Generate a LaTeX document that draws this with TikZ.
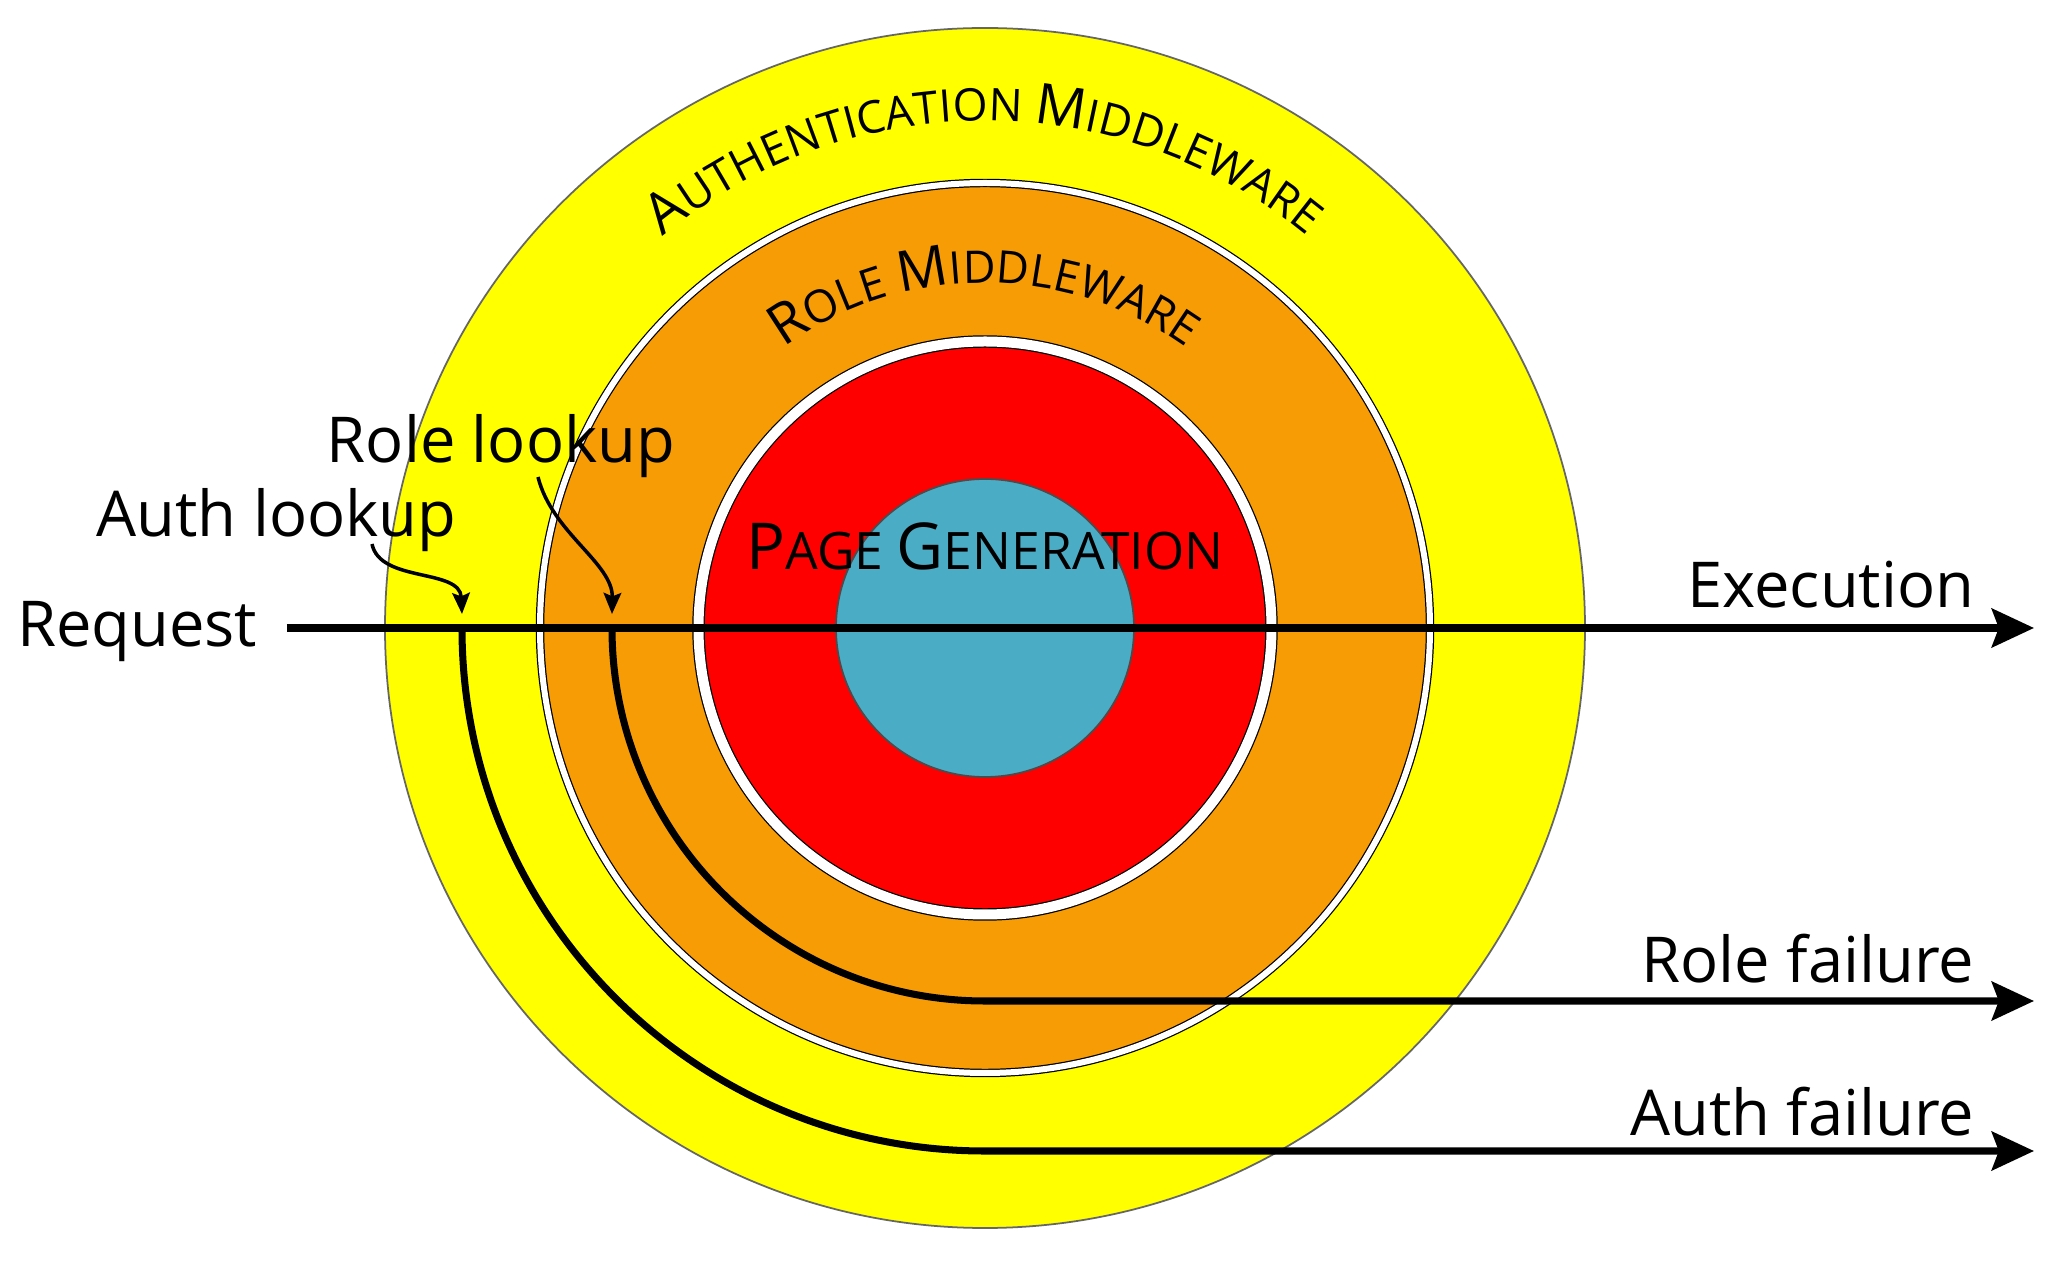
\documentclass[tikz,border=0pt]{standalone}
\usepackage{fontspec}
\setmainfont{Open Sans}
\usetikzlibrary{arrows.meta,decorations.text}
\definecolor{authyellow}{HTML}{FFFF00}
\definecolor{roleorange}{HTML}{F89C06}
\definecolor{pagered}{HTML}{FF0000}
\definecolor{coreblue}{HTML}{4BACC6}
\newcommand{\ringbig}{\fontsize{16}{19}\selectfont}
\newcommand{\ringsmall}{\fontsize{12.8}{15}\selectfont}
\newcommand{\pagebig}{\fontsize{18.4}{21}\selectfont}
\newcommand{\pagesmall}{\fontsize{14.7}{17}\selectfont}

\begin{document}
\begin{tikzpicture}[
    ring/.style={circle, inner sep=0pt, line width=0.5pt},
    gap/.style={draw=black, line width=0.35pt, double=white, double distance=#1},
    flow/.style={line width=2pt, -{Stealth[length=12pt,width=11pt,inset=2pt]}},
    look/.style={line width=1pt, -{Stealth[length=6pt,width=5pt,inset=1pt]}},
    lbl/.style={font=\fontsize{18}{21}\selectfont, inner sep=0pt}
]
\useasboundingbox (-9.85,-6.34) rectangle (10.79,6.28);

\node[ring, minimum size=12cm, fill=authyellow, draw=black!60] (auth) at (0,0) {};
\node[ring, minimum size=8.9cm, fill=roleorange, gap=0.06cm] (role) at (0,0) {};
\node[ring, minimum size=5.73cm, fill=pagered, gap=0.1cm] (page) at (0,0) {};
\node[ring, minimum size=2.98cm, fill=coreblue, draw=black!70] (core) at (0,0) {};

\path[decorate, decoration={text along path, text align=center,
    text={|\ringbig|A|\ringsmall|UTHENTICATION |\ringbig|M|\ringsmall|IDDLEWARE}}]
    (auth.center) ++(180:5.07) arc[start angle=180, end angle=0, radius=5.07];
\path[decorate, decoration={text along path, text align=center,
    text={|\ringbig|R|\ringsmall|OLE |\ringbig|M|\ringsmall|IDDLEWARE}}]
    (role.center) ++(180:3.45) arc[start angle=180, end angle=0, radius=3.45];
\node[anchor=base, inner sep=0pt] (pagelbl) at (0,0.58) {\pagebig P\pagesmall AGE \pagebig G\pagesmall ENERATION};

\coordinate (authj) at (-5.23,0);
\coordinate (rolej) at (-3.73,0);
\coordinate (execend) at (10.49,0);
\coordinate (rolefail) at (10.49,-3.73);
\coordinate (authfail) at (10.49,-5.23);
\coordinate (alookstart) at (-6.13,0.84);
\coordinate (rlookstart) at (-4.47,1.51);

\node[lbl, anchor=base east, inner xsep=0.29cm] (req) at (-6.98,-0.19) {Request};
\node[lbl, anchor=base east] (exec) at (9.90,0.20) {Execution};
\node[lbl, anchor=base east] (rfail) at (9.90,-3.55) {Role failure};
\node[lbl, anchor=base east] (afail) at (9.90,-5.07) {Auth failure};
\node[lbl, anchor=base west] (alook) at (-8.89,0.91) {Auth lookup};
\node[lbl, anchor=base west] (rlook) at (-6.59,1.65) {Role lookup};

\draw[flow] (req.east |- execend) -- (execend);
\draw[flow] (authj) arc[start angle=180, end angle=270, radius=5.23] -- (authfail);
\draw[flow] (rolej) arc[start angle=180, end angle=270, radius=3.73] -- (rolefail);

\draw[look] (alookstart) .. controls (-6.05,0.45) and (-5.25,0.6) .. ([yshift=0.14cm]authj);
\draw[look] (rlookstart) .. controls (-4.33,0.95) and (-3.72,0.65) .. ([yshift=0.14cm]rolej);
\end{tikzpicture}
\end{document}
